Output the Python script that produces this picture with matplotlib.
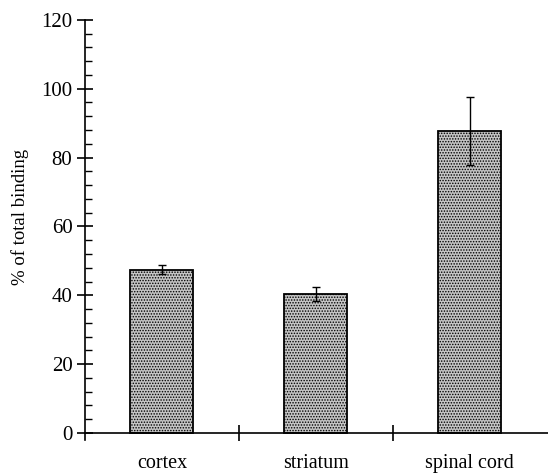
import numpy as np
import matplotlib
matplotlib.use('Agg')
import matplotlib.pyplot as plt
from matplotlib.ticker import MultipleLocator, FixedLocator

# data
regions = ['cortex', 'striatum', 'spinal cord']
binding = [47.4, 40.3, 87.8]
err_up = [1.3, 2.1, 9.9]
err_down = [1.3, 2.1, 9.9]

plt.rcParams['font.family'] = ['Liberation Serif', 'DejaVu Serif']
plt.rcParams['hatch.linewidth'] = 0.7
plt.rcParams['hatch.color'] = '#444444'

fig = plt.figure(figsize=(5.48, 4.73), dpi=100)
ax = fig.add_axes([0.155, 0.070, 0.848, 0.888])

x = np.arange(len(regions))
ax.bar(x, binding, width=0.41, color='#c4c4c4', edgecolor='black',
       linewidth=1.3, hatch='......', zorder=2)
ax.errorbar(x, binding, yerr=[err_down, err_up], fmt='none', ecolor='black',
            elinewidth=1.0, capsize=3, capthick=1.0, zorder=3)

ax.set_xlim(-0.5, 2.52)
ax.set_ylim(-2, 120)

ax.spines['top'].set_visible(False)
ax.spines['right'].set_visible(False)
ax.spines['bottom'].set_position(('data', 0))
ax.spines['left'].set_linewidth(1.2)
ax.spines['bottom'].set_linewidth(1.2)

ax.yaxis.set_major_locator(FixedLocator([0, 20, 40, 60, 80, 100, 120]))
ax.yaxis.set_minor_locator(MultipleLocator(4))
ax.tick_params(axis='y', which='major', direction='inout', length=12, width=1.2,
               labelsize=15, pad=3)
ax.tick_params(axis='y', which='minor', direction='in', length=5, width=1.0)

ax.xaxis.set_major_locator(FixedLocator([0.5, 1.5]))
ax.xaxis.set_major_formatter(plt.NullFormatter())
ax.xaxis.set_minor_locator(FixedLocator(x))
ax.set_xticklabels(regions, minor=True)
ax.tick_params(axis='x', which='major', direction='inout', length=12, width=1.2)
ax.tick_params(axis='x', which='minor', length=0, pad=15, labelsize=14.5)

ax.set_ylabel('% of total binding', fontsize=13.5)
ax.yaxis.set_label_coords(-0.12, 0.53)

fig.savefig('out.png', dpi=100)
